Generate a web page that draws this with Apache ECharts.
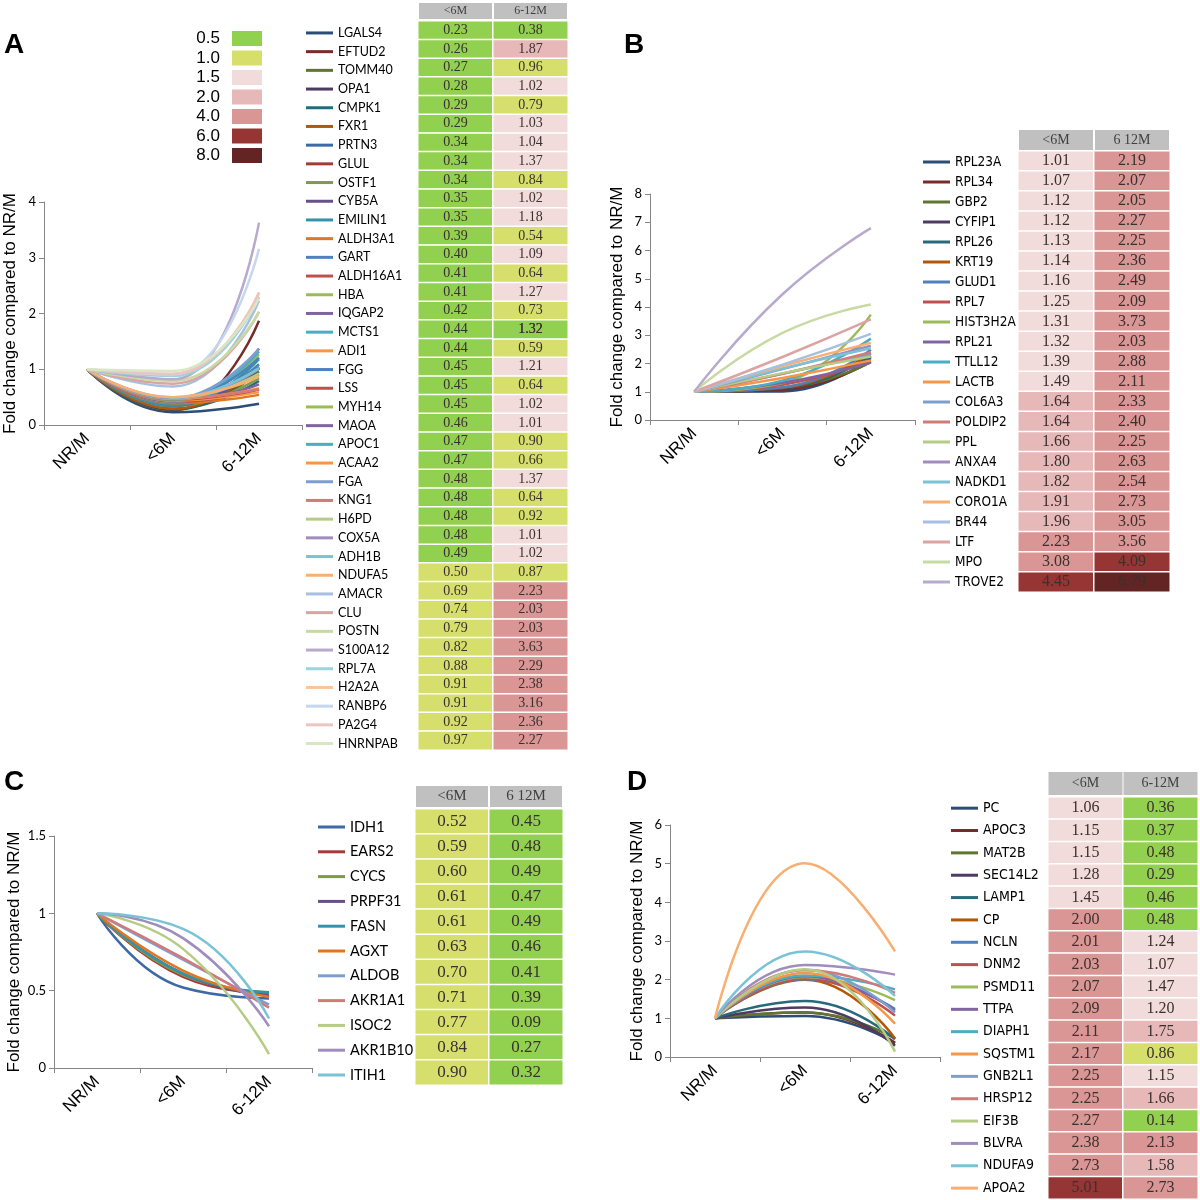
<!DOCTYPE html>
<html><head><meta charset="utf-8">
<script src="https://cdn.jsdelivr.net/npm/echarts@6/dist/echarts.min.js"></script>
<style>html,body{margin:0;padding:0;background:#fff}#chart{width:1200px;height:1200px}</style>
</head><body><div id="chart"></div>
<script>
// ---------------- DATA ----------------
const timeCategories = ['NR/M', '<6M', '6-12M'];
const baseline = 1;

const genesA = ['LGALS4','EFTUD2','TOMM40','OPA1','CMPK1','FXR1','PRTN3','GLUL','OSTF1','CYB5A','EMILIN1','ALDH3A1','GART','ALDH16A1','HBA','IQGAP2','MCTS1','ADI1','FGG','LSS','MYH14','MAOA','APOC1','ACAA2','FGA','KNG1','H6PD','COX5A','ADH1B','NDUFA5','AMACR','CLU','POSTN','S100A12','RPL7A','H2A2A','RANBP6','PA2G4','HNRNPAB'];
const lt6A = [0.23,0.26,0.27,0.28,0.29,0.29,0.34,0.34,0.34,0.35,0.35,0.39,0.40,0.41,0.41,0.42,0.44,0.44,0.45,0.45,0.45,0.46,0.47,0.47,0.48,0.48,0.48,0.48,0.49,0.50,0.69,0.74,0.79,0.82,0.88,0.91,0.91,0.92,0.97];
const m612A = [0.38,1.87,0.96,1.02,0.79,1.03,1.04,1.37,0.84,1.02,1.18,0.54,1.09,0.64,1.27,0.73,1.32,0.59,1.21,0.64,1.02,1.01,0.90,0.66,1.37,0.64,0.92,1.01,1.02,0.87,2.23,2.03,2.03,3.63,2.29,2.38,3.16,2.36,2.27];

const genesB = ['RPL23A','RPL34','GBP2','CYFIP1','RPL26','KRT19','GLUD1','RPL7','HIST3H2A','RPL21','TTLL12','LACTB','COL6A3','POLDIP2','PPL','ANXA4','NADKD1','CORO1A','BR44','LTF','MPO','TROVE2'];
const lt6B = [1.01,1.07,1.12,1.12,1.13,1.14,1.16,1.25,1.31,1.32,1.39,1.49,1.64,1.64,1.66,1.80,1.82,1.91,1.96,2.23,3.08,4.45];
const m612B = [2.19,2.07,2.05,2.27,2.25,2.36,2.49,2.09,3.73,2.03,2.88,2.11,2.33,2.40,2.25,2.63,2.54,2.73,3.05,3.56,4.09,6.79];

const genesC = ['IDH1','EARS2','CYCS','PRPF31','FASN','AGXT','ALDOB','AKR1A1','ISOC2','AKR1B10','ITIH1'];
const lt6C = [0.52,0.59,0.60,0.61,0.61,0.63,0.70,0.71,0.77,0.84,0.90];
const m612C = [0.45,0.48,0.49,0.47,0.49,0.46,0.41,0.39,0.09,0.27,0.32];

const genesD = ['PC','APOC3','MAT2B','SEC14L2','LAMP1','CP','NCLN','DNM2','PSMD11','TTPA','DIAPH1','SQSTM1','GNB2L1','HRSP12','EIF3B','BLVRA','NDUFA9','APOA2'];
const lt6D = [1.06,1.15,1.15,1.28,1.45,2.00,2.01,2.03,2.07,2.09,2.11,2.17,2.25,2.25,2.27,2.38,2.73,5.01];
const m612D = [0.36,0.37,0.48,0.29,0.46,0.48,1.24,1.07,1.47,1.20,1.75,0.86,1.15,1.66,0.14,2.13,1.58,2.73];

const headersA = ['<6M', '6-12M'];
const headersB = ['<6M', '6 12M'];
const headersC = ['<6M', '6 12M'];
const headersD = ['<6M', '6-12M'];

const colorScaleLabels = ['0.5','1.0','1.5','2.0','4.0','6.0','8.0'];
const colorScaleBounds = [0.5, 1.0, 1.5, 2.0, 4.0, 6.0];
const yAxisTitle = 'Fold change compared to NR/M';
// cell shown green in the original table despite its value
const greenCellA = { gene: 'MCTS1', column: 1 };

// ---------------- STYLE ----------------
const scaleColors = ['#92d050','#d6df6c','#f2dcdb','#e6b9b8','#d99694','#963634','#632523'];
const shades = [
  ['#2c4d75','#772c2a','#5f7530','#4d3b62','#276a7c','#b65708'],
  ['#3d69a5','#a33b38','#7f9c45','#665087','#3592ac','#e0761f'],
  ['#4f81bd','#c0504d','#9bbb59','#8064a2','#4bacc6','#f79646'],
  ['#7d9fd0','#d17b79','#b4cc84','#a08cbd','#7ac3d7','#f9ae72'],
  ['#a7bfe0','#dba3a2','#c8daa4','#b7aacd','#9dd2e1','#fac59c'],
  ['#c6d6ee','#ecc4c3','#d9e6c2','#c9c0da','#bde1ea','#fcd8ba']
];
const sans = "'Liberation Sans', Arial, sans-serif";
const serif = "'Liberation Serif', 'DejaVu Serif', serif";
const legendFont = "Lato, 'Liberation Sans', sans-serif";
const narrowFont = "'Liberation Sans Narrow', 'DejaVu Sans Condensed', Lato, sans-serif";

const panels = [
  { letter: 'A', genes: genesA, lt6: lt6A, m612: m612A, headers: headersA,
    letterPos: { left: 4, top: 31 },
    line: { left: 44, top: 202, width: 258, height: 223, max: 4, interval: 1, nameGap: 25 },
    legend: { left: 306, top: 23.6, rowH: 18.7, font: legendFont, size: 12.5 },
    table: { left: 418, top: 21, width: 150, height: 729, headerH: 16, size: 14, gap: 2 },
    levels: [0,1,2,2,3,4,5] },
  { letter: 'B', genes: genesB, lt6: lt6B, m612: m612B, headers: headersB,
    letterPos: { left: 624, top: 31 },
    line: { left: 650, top: 194, width: 265, height: 226, max: 8, interval: 1, nameGap: 24 },
    legend: { left: 923, top: 152, rowH: 20, font: narrowFont, size: 13.5 },
    table: { left: 1018, top: 151, width: 152, height: 441, headerH: 20, size: 16, gap: 1 },
    levels: [0,2,3,4] },
  { letter: 'C', genes: genesC, lt6: lt6C, m612: m612C, headers: headersC,
    letterPos: { left: 4, top: 768 },
    line: { left: 54, top: 836, width: 258, height: 232, max: 1.5, interval: 0.5, nameGap: 31 },
    legend: { left: 318, top: 814.6, rowH: 24.8, font: legendFont, size: 14.5 },
    table: { left: 415, top: 809, width: 148, height: 276, headerH: 21, size: 17, gap: 2 },
    levels: [1,3] },
  { letter: 'D', genes: genesD, lt6: lt6D, m612: m612D, headers: headersD,
    letterPos: { left: 627, top: 768 },
    line: { left: 670, top: 825, width: 270, height: 232, max: 6, interval: 1, nameGap: 24 },
    legend: { left: 951, top: 797, rowH: 22.35, font: narrowFont, size: 14 },
    table: { left: 1048, top: 797, width: 152, height: 402, headerH: 23, size: 16, gap: 2 },
    levels: [0,2,3] }
];

// ---------------- OPTION ----------------
const grid = [], xAxis = [], yAxis = [], series = [], legend = [], title = [];
const heatmapIdx = [];
const axisGray = '#868686';

panels.forEach((p, pi) => {
  title.push({ text: p.letter, left: p.letterPos.left, top: p.letterPos.top, padding: 0,
    textStyle: { fontFamily: sans, fontWeight: 'bold', fontSize: 28, color: '#000' } });

  grid.push({ left: p.line.left, top: p.line.top, width: p.line.width, height: p.line.height });
  xAxis.push({ gridIndex: pi, type: 'category', data: timeCategories, boundaryGap: true,
    axisLine: { lineStyle: { color: axisGray } },
    axisTick: { show: true, length: 5, interval: 0, lineStyle: { color: axisGray } },
    axisLabel: { interval: 0, rotate: 45, fontSize: 17, color: '#000', fontFamily: sans, margin: 11 } });
  yAxis.push({ gridIndex: pi, type: 'value', min: 0, max: p.line.max, interval: p.line.interval,
    splitLine: { show: false },
    axisLine: { show: true, lineStyle: { color: axisGray } },
    axisTick: { show: true, length: 5, lineStyle: { color: axisGray } },
    axisLabel: { fontSize: 13, color: '#000', fontFamily: legendFont, margin: 8 },
    name: yAxisTitle, nameLocation: 'middle', nameGap: p.line.nameGap,
    nameTextStyle: { fontSize: 17, color: '#000', fontFamily: sans } });

  p.genes.forEach((g, i) => {
    const level = p.levels[Math.floor(i / 6)];
    const color = shades[level][i % 6];
    series.push({ type: 'line', name: g, xAxisIndex: pi, yAxisIndex: pi,
      data: [baseline, p.lt6[i], p.m612[i]], smooth: 0.5, symbol: 'none', showSymbol: false,
      color: color, lineStyle: { width: 2.5, color: color }, emphasis: { disabled: true } });
  });

  legend.push({ orient: 'vertical', left: p.legend.left, top: p.legend.top, padding: 0,
    itemWidth: 27, itemHeight: 3, itemGap: 0, icon: 'rect', selectedMode: false,
    data: p.genes,
    textStyle: { fontSize: p.legend.size, fontFamily: p.legend.font, color: '#000', lineHeight: p.legend.rowH } });
});

panels.forEach((p, pi) => {
  const gi = 4 + pi;
  const t = p.table;
  grid.push({ left: t.left, top: t.top, width: t.width, height: t.height });
  xAxis.push({ gridIndex: gi, type: 'category', data: p.headers, position: 'top',
    axisLine: { show: false }, axisTick: { show: false }, splitLine: { show: false },
    axisLabel: { interval: 0, margin: t.gap, backgroundColor: '#c0c0c0',
      width: t.width / 2 - 2, height: t.headerH, lineHeight: t.headerH, align: 'center',
      fontFamily: serif, fontSize: t.size - 2, color: '#404040' } });
  yAxis.push({ gridIndex: gi, type: 'category', data: p.genes, inverse: true, show: false });
  const data = [];
  p.genes.forEach((g, i) => { data.push([0, i, p.lt6[i]]); data.push([1, i, p.m612[i]]); });
  const labelCfg = { show: true, formatter: (q) => q.value[2].toFixed(2),
    fontFamily: serif, fontSize: t.size, color: '#3a3030' };
  heatmapIdx.push(series.length);
  series.push({ type: 'heatmap', name: 'table ' + p.letter, xAxisIndex: gi, yAxisIndex: gi, data,
    itemStyle: { borderColor: '#ffffff', borderWidth: 1.5 }, label: labelCfg,
    emphasis: { disabled: true } });
  if (p.letter === 'A') {
    const gIdx = genesA.indexOf(greenCellA.gene);
    const val = m612A[gIdx];
    series.push({ type: 'heatmap', name: 'table A note', xAxisIndex: gi, yAxisIndex: gi,
      data: [[greenCellA.column, gIdx, val]],
      itemStyle: { color: scaleColors[0], borderColor: '#ffffff', borderWidth: 1.5 },
      label: labelCfg, emphasis: { disabled: true } });
  }
});

const pieces = colorScaleLabels.map((lab, k) => {
  const piece = { label: lab, color: scaleColors[k] };
  if (k > 0) piece.gte = colorScaleBounds[k - 1];
  if (k < colorScaleBounds.length) piece.lt = colorScaleBounds[k];
  return piece;
});

const option = {
  backgroundColor: '#ffffff',
  animation: false,
  title, grid, xAxis, yAxis, series, legend,
  visualMap: [{ type: 'piecewise', seriesIndex: heatmapIdx, dimension: 2,
    orient: 'vertical', inverse: true, right: 938, top: 30, padding: 0,
    itemWidth: 30, itemHeight: 15, itemGap: 2.5, align: 'right', textGap: 12,
    selectedMode: false, itemSymbol: 'rect',
    textStyle: { fontSize: 17, color: '#000', fontFamily: sans, lineHeight: 15 },
    pieces }]
};

const chart = echarts.init(document.getElementById('chart'), null, { renderer: 'canvas' });
chart.setOption(option);
</script>
</body></html>
